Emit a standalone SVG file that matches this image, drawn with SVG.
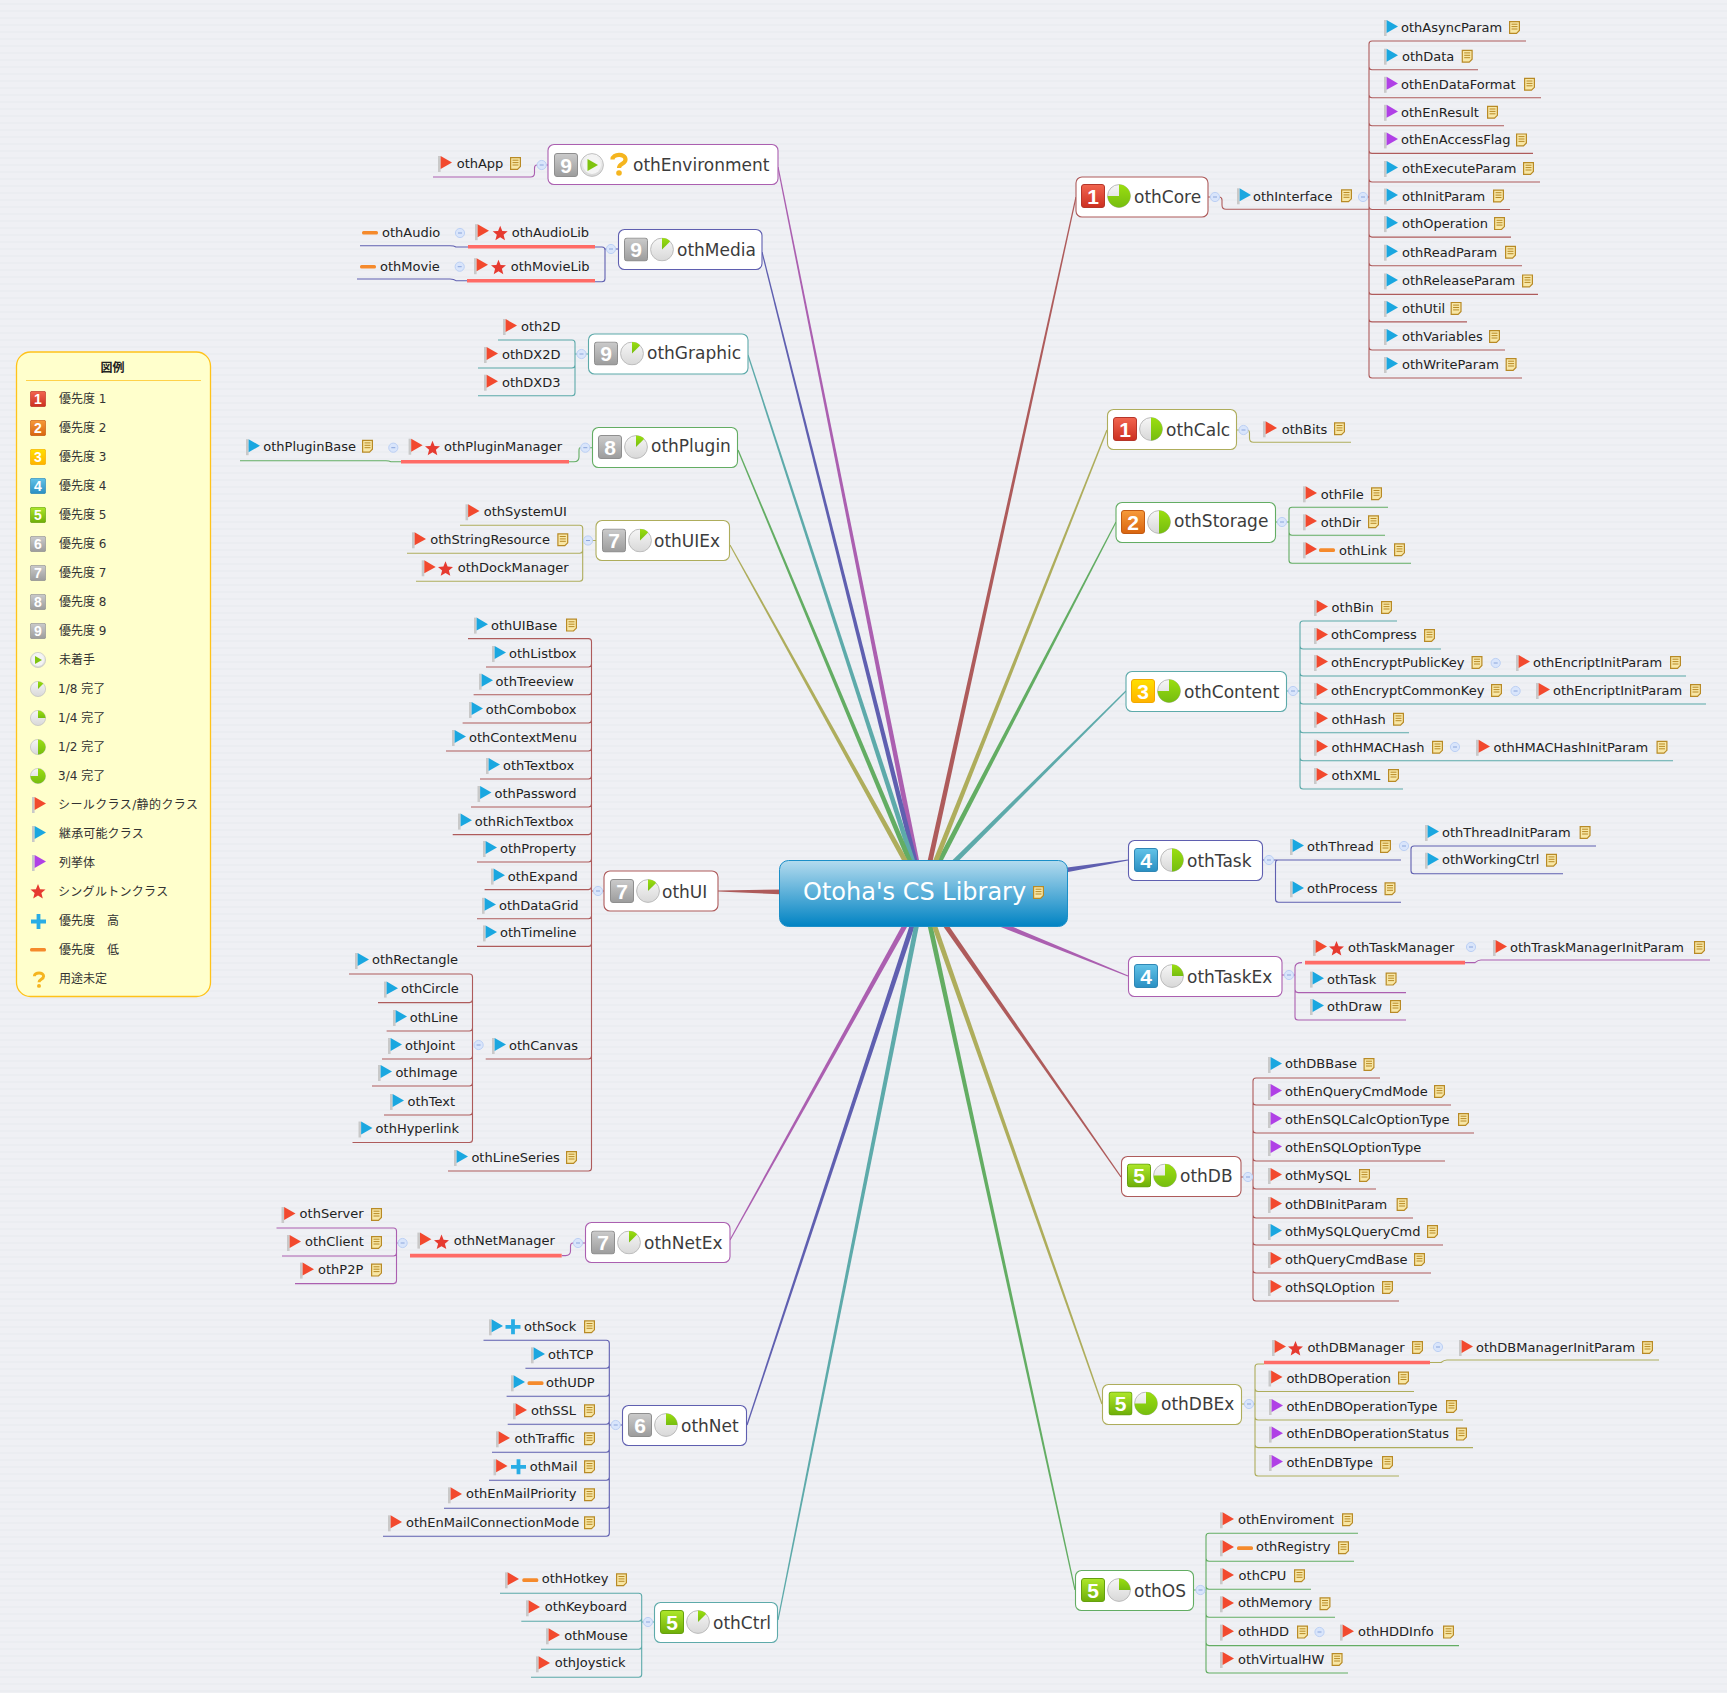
<svg xmlns="http://www.w3.org/2000/svg" width="1727" height="1693" viewBox="0 0 1727 1693">
<style>
text{font-family:"DejaVu Sans","Noto Sans CJK JP",sans-serif}
.t0{font-size:24px;fill:#fff}
.t1{font-size:17px;fill:#3c3c3c}
.t2{font-size:13px;fill:#222}
.t3{font-size:12px;fill:#333}
.pn{font-family:"Liberation Sans",Arial,sans-serif;font-size:21px;font-weight:bold;fill:#fff;text-anchor:middle}
.nd{fill:#fff;stroke-width:1.1}
.l{fill:none;stroke-width:1.1}
.sg{fill:none;stroke:#ff6b66;stroke-width:3.6}
.rd{stroke:#ae5b5b}.ol{stroke:#aead5c}.gr{stroke:#63ad63}.te{stroke:#5daaaa}.bl{stroke:#5f5fb0}.pu{stroke:#ab5fb0}
.frd{fill:#ae5b5b}.fol{fill:#aead5c}.fgr{fill:#63ad63}.fte{fill:#5daaaa}.fbl{fill:#5f5fb0}.fpu{fill:#ab5fb0}
</style>
<defs>
<pattern id="bg" width="8" height="7" patternUnits="userSpaceOnUse"><rect width="8" height="7" fill="#eff0f4"/><rect y="3" width="8" height="2" fill="#ebedf1"/></pattern>
<linearGradient id="gr0" x1="0" y1="0" x2="0" y2="1"><stop offset="0" stop-color="#b4dbee"/><stop offset="1" stop-color="#0083c3"/></linearGradient>
<linearGradient id="gR" x1="0" y1="0" x2="0" y2="1"><stop offset="0" stop-color="#f2654f"/><stop offset="1" stop-color="#cc2f20"/></linearGradient>
<linearGradient id="gO" x1="0" y1="0" x2="0" y2="1"><stop offset="0" stop-color="#f79a3a"/><stop offset="1" stop-color="#d8640f"/></linearGradient>
<linearGradient id="gY" x1="0" y1="0" x2="0" y2="1"><stop offset="0" stop-color="#ffe000"/><stop offset="1" stop-color="#ffb300"/></linearGradient>
<linearGradient id="gB" x1="0" y1="0" x2="0" y2="1"><stop offset="0" stop-color="#62c3e8"/><stop offset="1" stop-color="#2a8fc2"/></linearGradient>
<linearGradient id="gG" x1="0" y1="0" x2="0" y2="1"><stop offset="0" stop-color="#aee82a"/><stop offset="1" stop-color="#6eae08"/></linearGradient>
<linearGradient id="gS" x1="0" y1="0" x2="0" y2="1"><stop offset="0" stop-color="#cbcbcb"/><stop offset="1" stop-color="#9c9c9c"/></linearGradient>
<linearGradient id="gC" x1="0" y1="0" x2="0" y2="1"><stop offset="0" stop-color="#f6f6f6"/><stop offset="1" stop-color="#d8d8d8"/></linearGradient>
<linearGradient id="gW" x1="0" y1="0" x2="0" y2="1"><stop offset="0" stop-color="#9ade10"/><stop offset="1" stop-color="#76bd10"/></linearGradient>
<symbol id="p1" viewBox="0 0 24 24"><rect x=".5" y=".5" width="23" height="23" rx="2.5" fill="url(#gR)" stroke="#b5362a"/><text class="pn" x="12" y="19.5">1</text></symbol>
<symbol id="p2" viewBox="0 0 24 24"><rect x=".5" y=".5" width="23" height="23" rx="2.5" fill="url(#gO)" stroke="#c25a12"/><text class="pn" x="12" y="19.5">2</text></symbol>
<symbol id="p3" viewBox="0 0 24 24"><rect x=".5" y=".5" width="23" height="23" rx="2.5" fill="url(#gY)" stroke="#f2a900"/><text class="pn" x="12" y="19.5">3</text></symbol>
<symbol id="p4" viewBox="0 0 24 24"><rect x=".5" y=".5" width="23" height="23" rx="2.5" fill="url(#gB)" stroke="#2f87b5"/><text class="pn" x="12" y="19.5">4</text></symbol>
<symbol id="p5" viewBox="0 0 24 24"><rect x=".5" y=".5" width="23" height="23" rx="2.5" fill="url(#gG)" stroke="#66a010"/><text class="pn" x="12" y="19.5">5</text></symbol>
<symbol id="p6" viewBox="0 0 24 24"><rect x=".5" y=".5" width="23" height="23" rx="2.5" fill="url(#gS)" stroke="#8f8f8f"/><text class="pn" x="12" y="19.5">6</text></symbol>
<symbol id="p7" viewBox="0 0 24 24"><rect x=".5" y=".5" width="23" height="23" rx="2.5" fill="url(#gS)" stroke="#8f8f8f"/><text class="pn" x="12" y="19.5">7</text></symbol>
<symbol id="p8" viewBox="0 0 24 24"><rect x=".5" y=".5" width="23" height="23" rx="2.5" fill="url(#gS)" stroke="#8f8f8f"/><text class="pn" x="12" y="19.5">8</text></symbol>
<symbol id="p9" viewBox="0 0 24 24"><rect x=".5" y=".5" width="23" height="23" rx="2.5" fill="url(#gS)" stroke="#8f8f8f"/><text class="pn" x="12" y="19.5">9</text></symbol>
<symbol id="q0" viewBox="0 0 24 24"><circle cx="12" cy="12" r="11.4" fill="url(#gC)" stroke="#c0c0c0"/><circle cx="12" cy="12" r="9" fill="#f4f4f4"/><path d="M7.5 6L18 12L7.5 18Z" fill="#7fc410"/></symbol>
<symbol id="q1" viewBox="0 0 24 24"><circle cx="12" cy="12" r="11.4" fill="url(#gC)" stroke="#bcbcbc"/><path d="M12 12V.6A11.4 11.4 0 0 1 20.1 3.9Z" fill="url(#gW)"/></symbol>
<symbol id="q2" viewBox="0 0 24 24"><circle cx="12" cy="12" r="11.4" fill="url(#gC)" stroke="#bcbcbc"/><path d="M12 12V.6A11.4 11.4 0 0 1 23.4 12Z" fill="url(#gW)"/></symbol>
<symbol id="q3" viewBox="0 0 24 24"><circle cx="12" cy="12" r="11.4" fill="url(#gC)" stroke="#bcbcbc"/><path d="M12 .6A11.4 11.4 0 0 1 12 23.4Z" fill="url(#gW)"/></symbol>
<symbol id="q4" viewBox="0 0 24 24"><circle cx="12" cy="12" r="11.4" fill="url(#gC)" stroke="#bcbcbc"/><path d="M12 12V.6A11.4 11.4 0 1 1 .6 12Z" fill="url(#gW)"/></symbol>
<symbol id="qm" viewBox="0 0 22 24"><path d="M4.500 7.500C4.500 1.500 17.500 1 17.500 7.500C17.500 12 11 11.500 11 16" fill="none" stroke="#f5b51f" stroke-width="4.200"/><circle cx="11" cy="21" r="2.800" fill="#f5b51f"/></symbol>
<g id="fr"><rect width="2.6" height="16" fill="#c9c9c9"/><path d="M2.6 0L14 6.6L2.6 13Z" fill="#f2492e"/></g>
<g id="fb"><rect width="2.6" height="16" fill="#c9c9c9"/><path d="M2.6 0L14 6.6L2.6 13Z" fill="#1aa7e0"/></g>
<g id="fp"><rect width="2.6" height="16" fill="#c9c9c9"/><path d="M2.6 0L14 6.6L2.6 13Z" fill="#b040e6"/></g>
<g id="nt"><path d="M.6 .6H10.4V9.5L7.5 12.4H.6Z" fill="#f8e7a6" stroke="#b88a26" stroke-width="1.2"/><path d="M2.5 3.2H8.5M2.5 5.6H8.5M2.5 8H8.5" stroke="#b88a26"/></g>
<g id="st"><polygon points="7.5,0 9.6,5.2 15,5.6 10.9,9.1 12.3,14.5 7.5,11.6 2.7,14.5 4.1,9.1 0,5.6 5.4,5.2" fill="#e63a30"/></g>
<g id="mi"><rect width="16" height="3.6" rx="1.5" fill="#f58a2c"/></g>
<g id="pl"><path d="M5.6 0H9.4V5.6H15V9.4H9.4V15H5.6V9.4H0V5.6H5.6Z" fill="#29ade5"/></g>
<g id="co"><circle r="4.6" fill="#d9e5fb" stroke="#bcd0f4"/><path d="M-2 0H2" stroke="#8ba6dc"/></g>
</defs>
<rect width="1727" height="1693" fill="url(#bg)"/>

<g id="connectors">
<polygon class="fpu" points="919.9,864.5 914.9,865.5 777.4,167.1 778.6,166.9"/>
<polygon class="fbl" points="918.4,864.4 913.6,865.6 761.4,252.1 762.6,251.9"/>
<polygon class="fte" points="916.3,864.2 911.5,865.8 747.4,355.2 748.6,354.8"/>
<polygon class="fgr" points="913.6,864 909,866 737.4,450.2 738.6,449.8"/>
<polygon class="fol" points="909.7,863.8 905.3,866.2 729.5,545.3 730.5,544.7"/>
<polygon class="frd" points="785,889.5 785,894.5 718,891.6 718,890.4"/>
<polygon class="fpu" points="909.1,923.2 904.7,920.8 729.5,1239.7 730.5,1240.3"/>
<polygon class="fbl" points="915.8,922.8 911,921.2 746.4,1424.8 747.6,1425.2"/>
<polygon class="fte" points="919.6,922.5 914.8,921.5 777.4,1619.9 778.6,1620.1"/>
<polygon class="fgr" points="931.7,921.5 926.9,922.5 1074.4,1590.1 1075.6,1589.9"/>
<polygon class="fol" points="935.6,921.2 930.8,922.8 1101.4,1404.2 1102.6,1403.8"/>
<polygon class="frd" points="945.2,920.6 941.2,923.4 1120.5,1177.3 1121.5,1176.7"/>
<polygon class="fpu" points="1001.9,922.2 1000.1,926.8 1127.8,976.6 1128.2,975.4"/>
<polygon class="fbl" points="1060.4,873.5 1059.6,868.5 1127.9,859.4 1128.1,860.6"/>
<polygon class="fte" points="952.9,866.8 949.3,863.2 1125.6,690.6 1126.4,691.4"/>
<polygon class="fgr" points="939.8,866.2 935.4,863.8 1115.5,521.7 1116.5,522.3"/>
<polygon class="fol" points="936.4,865.9 931.8,864.1 1106.4,429.8 1107.6,430.2"/>
<polygon class="frd" points="931.6,865.5 926.8,864.5 1075.4,196.9 1076.6,197.1"/>

<path class="l rd" d="M1208 197H1215M1219 197q3 0 3 3V205q0 4.300 4 4.300H1369M1363 197H1369M1526 41H1372q-3 0-3 3V375q0 3 3 3H1522M1369 66.700q0 3 3 3H1478M1369 94.800q0 3 3 3H1541M1369 122.800q0 3 3 3H1504M1369 150.400q0 3 3 3H1533M1369 179q0 3 3 3H1540M1369 206.500q0 3 3 3H1510M1369 234.100q0 3 3 3H1511M1369 262.700q0 3 3 3H1522M1369 291.400q0 3 3 3H1538M1369 318.900q0 3 3 3H1467M1369 347q0 3 3 3H1505"/>
<path class="l ol" d="M1237 430H1243M1247 430q2.500 0 2.500 3V438q0 4.300 4 4.300H1351"/>
<path class="l gr" d="M1276 522H1282M1286 522H1289M1388 507.300H1292q-3 0-3 3V560.300q0 3 3 3H1411M1289 532.300q0 3 3 3H1385"/>
<path class="l te" d="M1287 691H1293M1297 691H1300M1397 621H1303q-3 0-3 3V786q0 3 3 3H1403M1300 646q0 3 3 3H1441M1300 673q0 3 3 3H1686M1300 701q0 3 3 3H1706M1300 729.700q0 3 3 3H1409M1300 757.800q0 3 3 3H1673"/>
<path class="l bl" d="M1262 860H1269M1273 860H1401M1596 846H1414q-3 0-3 3V870.700q0 3 3 3H1563M1278 860q-2.500 0-2.500 3V899.300q0 3 3 3H1401"/>
<path class="l pu" d="M1282 975H1289M1293 975H1295M1302 962.600q-7 0-7 5V1017q0 3 3 3H1406M1295 989.600q0 3 3 3H1406M1465 962.600H1475q3-2.600 6-2.600H1710"/>
<path class="sg" d="M1305 962.600H1465"/>
<path class="l rd" d="M1241 1177H1248M1252 1177H1253M1380 1078H1256q-3 0-3 3V1298q0 3 3 3H1399M1253 1102q0 3 3 3H1451M1253 1130q0 3 3 3H1474M1253 1158q0 3 3 3H1445M1253 1186q0 3 3 3H1376M1253 1215q0 3 3 3H1413M1253 1242q0 3 3 3H1443M1253 1270q0 3 3 3H1431"/>
<path class="l ol" d="M1242 1404H1249M1253 1404H1255M1264 1364H1258q-3 0-3 3V1473q0 3 3 3H1399M1255 1388.500q0 3 3 3H1414M1255 1417q0 3 3 3H1463M1255 1444.600q0 3 3 3H1473M1430 1362.500H1441q3-2.500 6-2.500H1659"/>
<path class="sg" d="M1264 1362.500H1430"/>
<path class="l gr" d="M1194 1590H1200M1204 1590H1206M1358 1533.300H1209q-3 0-3 3V1670q0 3 3 3H1348M1206 1558.300q0 3 3 3H1354M1206 1586.300q0 3 3 3H1311M1206 1614.300q0 3 3 3H1335M1206 1642.600q0 3 3 3H1459"/>

<path class="l pu" d="M548 165H542M537 165q-2.500 0-2.500 3V173q0 4-4 4H433"/>
<path class="l bl" d="M618 249H611M607 249H605M595 247H602q3 0 3 3V278.700q0 3-3 3H595M360 245.700H450q4 0 6 1.300H468M357 279H450q4 0 6 1.700H467"/>
<path class="sg" d="M468 246.700H595M467 280.700H595"/>
<path class="l te" d="M588 354H581.500M577 354H575M498 340H572q3 0 3 3V392.700q0 3-3 3H478M575 365q0 3-3 3H478"/>
<path class="l gr" d="M592 447.700H585.300M580.800 447.700H580q-1 0-1 3V457q0 4.700-5 4.700H569M240 460.700H386q3 0 5 1H401"/>
<path class="sg" d="M401 461.700H569"/>
<path class="l ol" d="M596 540.500H588M583.500 540.500H582.700M460 525.300H579.700q3 0 3 3V578.300q0 3-3 3H416M582.700 550.300q0 3-3 3H407"/>
<path class="l rd" d="M604 891H598M593.500 891H591.500M468 638.600H588.500q3 0 3 3V1168q0 3-3 3H448M591.500 664q0 3-3 3H486M591.500 691.700q0 3-3 3H473.600M591.500 720q0 3-3 3H462.600M591.500 748q0 3-3 3H446M591.500 776q0 3-3 3H480M591.500 804q0 3-3 3H471M591.500 831.600q0 3-3 3H452.700M591.500 859q0 3-3 3H477M591.500 886.600q0 3-3 3H484.600M591.500 915.800q0 3-3 3H477M591.500 943.400q0 3-3 3H477M591.500 1056q0 3-3 3H485.700M349 974H469.500q3 0 3 3V1139.500q0 3-3 3H352.500M472.500 999.600q0 3-3 3H378M472.500 1028q0 3-3 3H386.600M472.500 1056q0 3-3 3H382M472.500 1083q0 3-3 3H372M472.500 1112q0 3-3 3H384"/>
<path class="l pu" d="M585 1243H578M573.500 1243H573q-2.500 0-2.500 3V1251q0 4.600-5 4.600H561.700M276.500 1228H393.500q3 0 3 3V1280.600q0 3-3 3H295M396.500 1253q0 3-3 3H282"/>
<path class="sg" d="M410 1255.600H561.700"/>
<path class="l pu" d="M398 1243H396.500"/>
<path class="l bl" d="M622.300 1425H615.700M611 1425H609.300M483.500 1340.300H606.300q3 0 3 3V1533.300q0 3-3 3H383M609.300 1365.300q0 3-3 3H525.400M609.300 1393.300q0 3-3 3H506.600M609.300 1421.300q0 3-3 3H507.700M609.300 1449.300q0 3-3 3H492M609.300 1477.300q0 3-3 3H489M609.300 1505.300q0 3-3 3H444"/>
<path class="l te" d="M654.300 1622H647.700M643.500 1622H641.700M500 1593.300H638.700q3 0 3 3V1674.300q0 3-3 3H531M641.700 1618.300q0 3-3 3H521.300M641.700 1646.300q0 3-3 3H541"/>
</g>

<g id="root">
<rect x="779.500" y="860.500" width="288" height="66" rx="9" fill="url(#gr0)" stroke="#1b8fc8"/>
<text class="t0" x="803" y="900">Otoha's CS Library</text>
<use href="#nt" x="1033" y="886"/>
</g>

<g id="othEnvironment"><rect class="nd pu" x="548" y="144.500" width="230" height="40" rx="6"/><use href="#p9" x="554" y="153" width="24" height="24"/><use href="#q0" x="580" y="153" width="24" height="24"/><use href="#qm" x="608" y="152" width="22" height="24"/><text class="t1" x="633" y="171">othEnvironment</text></g>
<g id="othMedia"><rect class="nd bl" x="618.500" y="229.500" width="143.500" height="40" rx="6"/><use href="#p9" x="624" y="237.500" width="24" height="24"/><use href="#q1" x="650" y="237.500" width="24" height="24"/><text class="t1" x="677" y="256">othMedia</text></g>
<g id="othGraphic"><rect class="nd te" x="588.500" y="334" width="159.500" height="40" rx="6"/><use href="#p9" x="594" y="341.500" width="24" height="24"/><use href="#q1" x="620" y="341.500" width="24" height="24"/><text class="t1" x="647" y="359">othGraphic</text></g>
<g id="othPlugin"><rect class="nd gr" x="592.500" y="427.500" width="145" height="40" rx="6"/><use href="#p8" x="598" y="435" width="24" height="24"/><use href="#q1" x="624" y="435" width="24" height="24"/><text class="t1" x="651" y="452">othPlugin</text></g>
<g id="othUIEx"><rect class="nd ol" x="596" y="520.500" width="133.500" height="40" rx="6"/><use href="#p7" x="602" y="528.500" width="24" height="24"/><use href="#q1" x="628" y="528.500" width="24" height="24"/><text class="t1" x="654" y="547">othUIEx</text></g>
<g id="othUI"><rect class="nd rd" x="604" y="871" width="114" height="40" rx="6"/><use href="#p7" x="610" y="879" width="24" height="24"/><use href="#q1" x="636" y="879" width="24" height="24"/><text class="t1" x="662" y="897.500">othUI</text></g>
<g id="othNetEx"><rect class="nd pu" x="585.500" y="1222.500" width="144.500" height="40" rx="6"/><use href="#p7" x="591" y="1230.500" width="24" height="24"/><use href="#q1" x="617" y="1230.500" width="24" height="24"/><text class="t1" x="644" y="1249">othNetEx</text></g>
<g id="othNet"><rect class="nd bl" x="622.500" y="1405.500" width="124" height="40" rx="6"/><use href="#p6" x="628" y="1413" width="24" height="24"/><use href="#q2" x="654" y="1413" width="24" height="24"/><text class="t1" x="681" y="1432">othNet</text></g>
<g id="othCtrl"><rect class="nd te" x="654.500" y="1602.500" width="123" height="40" rx="6"/><use href="#p5" x="660" y="1610" width="24" height="24"/><use href="#q1" x="686" y="1610" width="24" height="24"/><text class="t1" x="713" y="1628.500">othCtrl</text></g>
<g id="othCore"><rect class="nd rd" x="1076" y="177" width="132" height="40" rx="6"/><use href="#p1" x="1081" y="184" width="24" height="24"/><use href="#q4" x="1107" y="184" width="24" height="24"/><text class="t1" x="1134" y="203">othCore</text></g>
<g id="othCalc"><rect class="nd ol" x="1107.500" y="409.500" width="129" height="40" rx="6"/><use href="#p1" x="1113" y="417" width="24" height="24"/><use href="#q3" x="1139" y="417" width="24" height="24"/><text class="t1" x="1166" y="436">othCalc</text></g>
<g id="othStorage"><rect class="nd gr" x="1116" y="502.500" width="159.500" height="40" rx="6"/><use href="#p2" x="1121" y="510" width="24" height="24"/><use href="#q3" x="1147" y="510" width="24" height="24"/><text class="t1" x="1174" y="527.300">othStorage</text></g>
<g id="othContent"><rect class="nd te" x="1126" y="671.500" width="160.500" height="40" rx="6"/><use href="#p3" x="1131" y="679" width="24" height="24"/><use href="#q4" x="1157" y="679" width="24" height="24"/><text class="t1" x="1184" y="698">othContent</text></g>
<g id="othTask"><rect class="nd bl" x="1128.500" y="840.500" width="134" height="40" rx="6"/><use href="#p4" x="1134" y="848" width="24" height="24"/><use href="#q3" x="1160" y="848" width="24" height="24"/><text class="t1" x="1187" y="867">othTask</text></g>
<g id="othTaskEx"><rect class="nd pu" x="1128.500" y="956.500" width="153.500" height="40" rx="6"/><use href="#p4" x="1134" y="964" width="24" height="24"/><use href="#q2" x="1160" y="964" width="24" height="24"/><text class="t1" x="1187" y="983">othTaskEx</text></g>
<g id="othDB"><rect class="nd rd" x="1121.500" y="1156.500" width="119.500" height="40" rx="6"/><use href="#p5" x="1127" y="1163.500" width="24" height="24"/><use href="#q4" x="1153" y="1163.500" width="24" height="24"/><text class="t1" x="1180" y="1182">othDB</text></g>
<g id="othDBEx"><rect class="nd ol" x="1102.500" y="1384.500" width="139" height="40" rx="6"/><use href="#p5" x="1108.500" y="1391.500" width="24" height="24"/><use href="#q4" x="1134" y="1391.500" width="24" height="24"/><text class="t1" x="1161" y="1410">othDBEx</text></g>
<g id="othOS"><rect class="nd gr" x="1075.500" y="1570.500" width="118" height="40" rx="6"/><use href="#p5" x="1081" y="1578" width="24" height="24"/><use href="#q2" x="1107" y="1578" width="24" height="24"/><text class="t1" x="1134" y="1596.500">othOS</text></g>

<g id="collapsers">
<use href="#co" x="1215" y="197"/><use href="#co" x="1363" y="197"/><use href="#co" x="1243.500" y="430"/><use href="#co" x="1282" y="522"/><use href="#co" x="1293" y="691"/><use href="#co" x="1495.700" y="663"/><use href="#co" x="1515.600" y="691"/><use href="#co" x="1455" y="747"/><use href="#co" x="1269" y="860"/><use href="#co" x="1404" y="846"/><use href="#co" x="1289" y="975"/><use href="#co" x="1471" y="947"/><use href="#co" x="1248" y="1177"/><use href="#co" x="1249" y="1404"/><use href="#co" x="1438" y="1347"/><use href="#co" x="1200.500" y="1590"/><use href="#co" x="1319.500" y="1632"/>
<use href="#co" x="541.700" y="165"/><use href="#co" x="611" y="249"/><use href="#co" x="460" y="233"/><use href="#co" x="459.700" y="266.700"/><use href="#co" x="581.500" y="354"/><use href="#co" x="585.300" y="447.700"/><use href="#co" x="393.300" y="447.700"/><use href="#co" x="588" y="540.500"/><use href="#co" x="598" y="891"/><use href="#co" x="478.600" y="1045"/><use href="#co" x="578" y="1243"/><use href="#co" x="402.600" y="1243"/><use href="#co" x="615.700" y="1425"/><use href="#co" x="648" y="1622"/>
</g>

<g id="leaves">
<g id="othInterface" transform="translate(0,209.300)"><use href="#fb" x="1237" y="-21"/><text class="t2" x="1253" y="-8">othInterface</text><use href="#nt" x="1341" y="-20"/></g>
<g id="othAsyncParam" transform="translate(0,41)"><use href="#fb" x="1384" y="-21"/><text class="t2" x="1401" y="-9">othAsyncParam</text><use href="#nt" x="1509" y="-20"/></g>
<g id="othData" transform="translate(0,69.700)"><use href="#fb" x="1384" y="-21"/><text class="t2" x="1402" y="-9">othData</text><use href="#nt" x="1461.700" y="-20"/></g>
<g id="othEnDataFormat" transform="translate(0,97.800)"><use href="#fp" x="1384" y="-21"/><text class="t2" x="1401" y="-9">othEnDataFormat</text><use href="#nt" x="1524" y="-20"/></g>
<g id="othEnResult" transform="translate(0,125.800)"><use href="#fp" x="1384" y="-21"/><text class="t2" x="1401" y="-9">othEnResult</text><use href="#nt" x="1487" y="-20"/></g>
<g id="othEnAccessFlag" transform="translate(0,153.400)"><use href="#fp" x="1384" y="-21"/><text class="t2" x="1401" y="-9">othEnAccessFlag</text><use href="#nt" x="1516" y="-20"/></g>
<g id="othExecuteParam" transform="translate(0,182)"><use href="#fb" x="1384" y="-21"/><text class="t2" x="1402" y="-9">othExecuteParam</text><use href="#nt" x="1523" y="-20"/></g>
<g id="othInitParam" transform="translate(0,209.500)"><use href="#fb" x="1384" y="-21"/><text class="t2" x="1402" y="-9">othInitParam</text><use href="#nt" x="1493" y="-20"/></g>
<g id="othOperation" transform="translate(0,237.100)"><use href="#fb" x="1384" y="-21"/><text class="t2" x="1402" y="-9">othOperation</text><use href="#nt" x="1494" y="-20"/></g>
<g id="othReadParam" transform="translate(0,265.700)"><use href="#fb" x="1384" y="-21"/><text class="t2" x="1402" y="-9">othReadParam</text><use href="#nt" x="1505" y="-20"/></g>
<g id="othReleaseParam" transform="translate(0,294.400)"><use href="#fb" x="1384" y="-21"/><text class="t2" x="1402" y="-9">othReleaseParam</text><use href="#nt" x="1522" y="-20"/></g>
<g id="othUtil" transform="translate(0,321.900)"><use href="#fb" x="1384" y="-21"/><text class="t2" x="1402" y="-9">othUtil</text><use href="#nt" x="1450.600" y="-20"/></g>
<g id="othVariables" transform="translate(0,350)"><use href="#fb" x="1384" y="-21"/><text class="t2" x="1402" y="-9">othVariables</text><use href="#nt" x="1489" y="-20"/></g>
<g id="othWriteParam" transform="translate(0,378)"><use href="#fb" x="1384" y="-21"/><text class="t2" x="1402" y="-9">othWriteParam</text><use href="#nt" x="1505.600" y="-20"/></g>

<g id="othBits" transform="translate(0,442.300)"><use href="#fr" x="1263" y="-21"/><text class="t2" x="1281.700" y="-8">othBits</text><use href="#nt" x="1334" y="-20"/></g>
<g id="othFile" transform="translate(0,507.300)"><use href="#fr" x="1303" y="-21"/><text class="t2" x="1320.700" y="-8">othFile</text><use href="#nt" x="1371" y="-20"/></g>
<g id="othDir" transform="translate(0,535.300)"><use href="#fr" x="1303" y="-21"/><text class="t2" x="1320.700" y="-8">othDir</text><use href="#nt" x="1368" y="-20"/></g>
<g id="othLink" transform="translate(0,563.300)"><use href="#fr" x="1303" y="-21"/><use href="#mi" x="1319" y="-15"/><text class="t2" x="1339" y="-8">othLink</text><use href="#nt" x="1394" y="-20"/></g>

<g id="othBin" transform="translate(0,621)"><use href="#fr" x="1314" y="-21"/><text class="t2" x="1331.600" y="-9">othBin</text><use href="#nt" x="1381" y="-20"/></g>
<g id="othCompress" transform="translate(0,649)"><use href="#fr" x="1314" y="-21"/><text class="t2" x="1331" y="-10">othCompress</text><use href="#nt" x="1424" y="-20"/></g>
<g id="othEncryptPublicKey" transform="translate(0,676)"><use href="#fr" x="1314" y="-21"/><text class="t2" x="1331" y="-9">othEncryptPublicKey</text><use href="#nt" x="1471.500" y="-20"/></g>
<g id="othEncriptInitParam1" transform="translate(0,676)"><use href="#fr" x="1516" y="-21"/><text class="t2" x="1533" y="-9">othEncriptInitParam</text><use href="#nt" x="1670" y="-20"/></g>
<g id="othEncryptCommonKey" transform="translate(0,704)"><use href="#fr" x="1314" y="-21"/><text class="t2" x="1331" y="-9">othEncryptCommonKey</text><use href="#nt" x="1491" y="-20"/></g>
<g id="othEncriptInitParam2" transform="translate(0,704)"><use href="#fr" x="1536" y="-21"/><text class="t2" x="1553" y="-9">othEncriptInitParam</text><use href="#nt" x="1690" y="-20"/></g>
<g id="othHash" transform="translate(0,732.700)"><use href="#fr" x="1314" y="-21"/><text class="t2" x="1331.600" y="-9">othHash</text><use href="#nt" x="1393" y="-20"/></g>
<g id="othHMACHash" transform="translate(0,760.800)"><use href="#fr" x="1314" y="-21"/><text class="t2" x="1331.600" y="-9">othHMACHash</text><use href="#nt" x="1432" y="-20"/></g>
<g id="othHMACHashInitParam" transform="translate(0,760.800)"><use href="#fr" x="1476" y="-21"/><text class="t2" x="1493.500" y="-9">othHMACHashInitParam</text><use href="#nt" x="1656.500" y="-20"/></g>
<g id="othXML" transform="translate(0,789)"><use href="#fr" x="1314" y="-21"/><text class="t2" x="1331.600" y="-9">othXML</text><use href="#nt" x="1388" y="-20"/></g>

<g id="othThread" transform="translate(0,860)"><use href="#fb" x="1290" y="-21"/><text class="t2" x="1307" y="-9">othThread</text><use href="#nt" x="1380" y="-20"/></g>
<g id="othThreadInitParam" transform="translate(0,846)"><use href="#fb" x="1425" y="-21"/><text class="t2" x="1442" y="-9.500">othThreadInitParam</text><use href="#nt" x="1579.600" y="-20"/></g>
<g id="othWorkingCtrl" transform="translate(0,873.700)"><use href="#fb" x="1425" y="-21"/><text class="t2" x="1442" y="-9.500">othWorkingCtrl</text><use href="#nt" x="1546" y="-20"/></g>
<g id="othProcess" transform="translate(0,902.300)"><use href="#fb" x="1290" y="-21"/><text class="t2" x="1307" y="-9">othProcess</text><use href="#nt" x="1384.500" y="-20"/></g>

<g id="othTaskManager" transform="translate(0,961)"><use href="#fr" x="1313" y="-21"/><use href="#st" x="1329" y="-20"/><text class="t2" x="1348" y="-9.500">othTaskManager</text></g>
<g id="othTraskManagerInitParam" transform="translate(0,961)"><use href="#fr" x="1493" y="-21"/><text class="t2" x="1510" y="-9.500">othTraskManagerInitParam</text><use href="#nt" x="1694" y="-20"/></g>
<g id="othTask2" transform="translate(0,992.600)"><use href="#fb" x="1310" y="-21"/><text class="t2" x="1327" y="-9">othTask</text><use href="#nt" x="1385.600" y="-20"/></g>
<g id="othDraw" transform="translate(0,1020)"><use href="#fb" x="1310" y="-21"/><text class="t2" x="1327" y="-9">othDraw</text><use href="#nt" x="1390" y="-20"/></g>

<g id="othDBBase" transform="translate(0,1078)"><use href="#fb" x="1268" y="-21"/><text class="t2" x="1285" y="-10">othDBBase</text><use href="#nt" x="1363.500" y="-20"/></g>
<g id="othEnQueryCmdMode" transform="translate(0,1105)"><use href="#fp" x="1268" y="-21"/><text class="t2" x="1285" y="-9.500">othEnQueryCmdMode</text><use href="#nt" x="1434" y="-20"/></g>
<g id="othEnSQLCalcOptionType" transform="translate(0,1133)"><use href="#fp" x="1268" y="-21"/><text class="t2" x="1285" y="-9.500">othEnSQLCalcOptionType</text><use href="#nt" x="1458" y="-20"/></g>
<g id="othEnSQLOptionType" transform="translate(0,1161)"><use href="#fp" x="1268" y="-21"/><text class="t2" x="1285" y="-9.500">othEnSQLOptionType</text></g>
<g id="othMySQL" transform="translate(0,1189)"><use href="#fr" x="1268" y="-21"/><text class="t2" x="1285" y="-9.500">othMySQL</text><use href="#nt" x="1359" y="-20"/></g>
<g id="othDBInitParam" transform="translate(0,1218)"><use href="#fr" x="1268" y="-21"/><text class="t2" x="1285" y="-9.500">othDBInitParam</text><use href="#nt" x="1396.600" y="-20"/></g>
<g id="othMySQLQueryCmd" transform="translate(0,1245)"><use href="#fb" x="1268" y="-21"/><text class="t2" x="1285" y="-9">othMySQLQueryCmd</text><use href="#nt" x="1427" y="-20"/></g>
<g id="othQueryCmdBase" transform="translate(0,1273)"><use href="#fr" x="1268" y="-21"/><text class="t2" x="1285" y="-9.500">othQueryCmdBase</text><use href="#nt" x="1414" y="-20"/></g>
<g id="othSQLOption" transform="translate(0,1301)"><use href="#fr" x="1268" y="-21"/><text class="t2" x="1285" y="-9.500">othSQLOption</text><use href="#nt" x="1382" y="-20"/></g>

<g id="othDBManager" transform="translate(0,1361)"><use href="#fr" x="1272" y="-21"/><use href="#st" x="1288" y="-20"/><text class="t2" x="1307.400" y="-9.500">othDBManager</text><use href="#nt" x="1412" y="-20"/></g>
<g id="othDBManagerInitParam" transform="translate(0,1361)"><use href="#fr" x="1459" y="-21"/><text class="t2" x="1476" y="-9.500">othDBManagerInitParam</text><use href="#nt" x="1642" y="-20"/></g>
<g id="othDBOperation" transform="translate(0,1391.500)"><use href="#fr" x="1268.500" y="-21"/><text class="t2" x="1286.400" y="-9">othDBOperation</text><use href="#nt" x="1398" y="-20"/></g>
<g id="othEnDBOperationType" transform="translate(0,1420)"><use href="#fp" x="1269" y="-21"/><text class="t2" x="1286.400" y="-9.500">othEnDBOperationType</text><use href="#nt" x="1446" y="-20"/></g>
<g id="othEnDBOperationStatus" transform="translate(0,1447.600)"><use href="#fp" x="1269" y="-21"/><text class="t2" x="1286.400" y="-9.500">othEnDBOperationStatus</text><use href="#nt" x="1456" y="-20"/></g>
<g id="othEnDBType" transform="translate(0,1476)"><use href="#fp" x="1269" y="-21"/><text class="t2" x="1286.400" y="-9.500">othEnDBType</text><use href="#nt" x="1382" y="-20"/></g>

<g id="othEnviroment" transform="translate(0,1533.300)"><use href="#fr" x="1220" y="-21"/><text class="t2" x="1238" y="-9">othEnviroment</text><use href="#nt" x="1342" y="-20"/></g>
<g id="othRegistry" transform="translate(0,1561.300)"><use href="#fr" x="1220" y="-21"/><use href="#mi" x="1237" y="-15"/><text class="t2" x="1256" y="-10">othRegistry</text><use href="#nt" x="1338" y="-20"/></g>
<g id="othCPU" transform="translate(0,1589.300)"><use href="#fr" x="1220" y="-21"/><text class="t2" x="1238.600" y="-9">othCPU</text><use href="#nt" x="1294" y="-20"/></g>
<g id="othMemory" transform="translate(0,1617.300)"><use href="#fr" x="1220" y="-21"/><text class="t2" x="1238" y="-10">othMemory</text><use href="#nt" x="1319.500" y="-20"/></g>
<g id="othHDD" transform="translate(0,1645.600)"><use href="#fr" x="1220" y="-21"/><text class="t2" x="1238" y="-10">othHDD</text><use href="#nt" x="1297" y="-20"/></g>
<g id="othHDDInfo" transform="translate(0,1645.600)"><use href="#fr" x="1340" y="-21"/><text class="t2" x="1358" y="-10">othHDDInfo</text><use href="#nt" x="1443" y="-20"/></g>
<g id="othVirtualHW" transform="translate(0,1673)"><use href="#fr" x="1220" y="-21"/><text class="t2" x="1238" y="-9">othVirtualHW</text><use href="#nt" x="1331.600" y="-20"/></g>

<g id="othApp" transform="translate(0,177)"><use href="#fr" x="438" y="-21"/><text class="t2" x="456.700" y="-9">othApp</text><use href="#nt" x="510" y="-20"/></g>
<g id="othAudioLib" transform="translate(0,246.700)"><use href="#fr" x="475" y="-22.500"/><use href="#st" x="492.700" y="-21"/><text class="t2" x="511.700" y="-10">othAudioLib</text></g>
<g id="othMovieLib" transform="translate(0,280.700)"><use href="#fr" x="474" y="-22.500"/><use href="#st" x="491" y="-21"/><text class="t2" x="510.700" y="-10">othMovieLib</text></g>
<g id="othAudio" transform="translate(0,246)"><use href="#mi" x="362" y="-15"/><text class="t2" x="382" y="-9">othAudio</text></g>
<g id="othMovie" transform="translate(0,279)"><use href="#mi" x="360" y="-14"/><text class="t2" x="380" y="-8">othMovie</text></g>
<g id="oth2D" transform="translate(0,340)"><use href="#fr" x="503" y="-21"/><text class="t2" x="521" y="-9">oth2D</text></g>
<g id="othDX2D" transform="translate(0,368)"><use href="#fr" x="484" y="-21"/><text class="t2" x="502" y="-9">othDX2D</text></g>
<g id="othDXD3" transform="translate(0,395.700)"><use href="#fr" x="484" y="-21"/><text class="t2" x="502" y="-9">othDXD3</text></g>
<g id="othPluginManager" transform="translate(0,461.700)"><use href="#fr" x="408.600" y="-23"/><use href="#st" x="425" y="-21"/><text class="t2" x="444" y="-10.500">othPluginManager</text></g>
<g id="othPluginBase" transform="translate(0,460.700)"><use href="#fb" x="246" y="-21.500"/><text class="t2" x="263.300" y="-10">othPluginBase</text><use href="#nt" x="362" y="-21"/></g>
<g id="othSystemUI" transform="translate(0,525.300)"><use href="#fr" x="465.500" y="-21"/><text class="t2" x="483.700" y="-9">othSystemUI</text></g>
<g id="othStringResource" transform="translate(0,553.300)"><use href="#fr" x="412" y="-21"/><text class="t2" x="430.300" y="-9">othStringResource</text><use href="#nt" x="557.300" y="-20"/></g>
<g id="othDockManager" transform="translate(0,581.300)"><use href="#fr" x="421.700" y="-21"/><use href="#st" x="438" y="-20"/><text class="t2" x="457.700" y="-9">othDockManager</text></g>

<g id="othUIBase" transform="translate(0,638.600)"><use href="#fb" x="474" y="-21"/><text class="t2" x="491" y="-9">othUIBase</text><use href="#nt" x="566" y="-20"/></g>
<g id="othListbox" transform="translate(0,667)"><use href="#fb" x="492" y="-21"/><text class="t2" x="509" y="-9">othListbox</text></g>
<g id="othTreeview" transform="translate(0,694.700)"><use href="#fb" x="479" y="-21"/><text class="t2" x="495.600" y="-9">othTreeview</text></g>
<g id="othCombobox" transform="translate(0,723)"><use href="#fb" x="469" y="-21"/><text class="t2" x="485.700" y="-9">othCombobox</text></g>
<g id="othContextMenu" transform="translate(0,751)"><use href="#fb" x="452" y="-21"/><text class="t2" x="469" y="-9">othContextMenu</text></g>
<g id="othTextbox" transform="translate(0,779)"><use href="#fb" x="486" y="-21"/><text class="t2" x="503" y="-9">othTextbox</text></g>
<g id="othPassword" transform="translate(0,807)"><use href="#fb" x="477.500" y="-21"/><text class="t2" x="494.500" y="-9">othPassword</text></g>
<g id="othRichTextbox" transform="translate(0,834.600)"><use href="#fb" x="458" y="-21"/><text class="t2" x="474.700" y="-9">othRichTextbox</text></g>
<g id="othProperty" transform="translate(0,862)"><use href="#fb" x="483" y="-21"/><text class="t2" x="500" y="-9">othProperty</text></g>
<g id="othExpand" transform="translate(0,889.600)"><use href="#fb" x="491" y="-21"/><text class="t2" x="507.800" y="-9">othExpand</text></g>
<g id="othDataGrid" transform="translate(0,918.800)"><use href="#fb" x="482" y="-21"/><text class="t2" x="499" y="-9">othDataGrid</text></g>
<g id="othTimeline" transform="translate(0,946.400)"><use href="#fb" x="483" y="-21"/><text class="t2" x="500" y="-9">othTimeline</text></g>
<g id="othCanvas" transform="translate(0,1059)"><use href="#fb" x="492" y="-21"/><text class="t2" x="509" y="-9.500">othCanvas</text></g>
<g id="othLineSeries" transform="translate(0,1171)"><use href="#fb" x="454" y="-21"/><text class="t2" x="471.400" y="-9">othLineSeries</text><use href="#nt" x="566" y="-20"/></g>
<g id="othRectangle" transform="translate(0,974)"><use href="#fb" x="355" y="-21"/><text class="t2" x="372" y="-10">othRectangle</text></g>
<g id="othCircle" transform="translate(0,1002.600)"><use href="#fb" x="384" y="-21"/><text class="t2" x="401" y="-9.500">othCircle</text></g>
<g id="othLine" transform="translate(0,1031)"><use href="#fb" x="393" y="-21"/><text class="t2" x="409.700" y="-9.500">othLine</text></g>
<g id="othJoint" transform="translate(0,1059)"><use href="#fb" x="388" y="-21"/><text class="t2" x="405" y="-9.500">othJoint</text></g>
<g id="othImage" transform="translate(0,1086)"><use href="#fb" x="378" y="-21"/><text class="t2" x="395.400" y="-9">othImage</text></g>
<g id="othText" transform="translate(0,1115)"><use href="#fb" x="390" y="-21"/><text class="t2" x="407.500" y="-9">othText</text></g>
<g id="othHyperlink" transform="translate(0,1142.500)"><use href="#fb" x="358.500" y="-21"/><text class="t2" x="375.600" y="-10">othHyperlink</text></g>

<g id="othNetManager" transform="translate(0,1255.600)"><use href="#fr" x="417.400" y="-23"/><use href="#st" x="434" y="-21"/><text class="t2" x="453.800" y="-10.500">othNetManager</text></g>
<g id="othServer" transform="translate(0,1228)"><use href="#fr" x="281.500" y="-21"/><text class="t2" x="299.600" y="-10">othServer</text><use href="#nt" x="371" y="-20"/></g>
<g id="othClient" transform="translate(0,1256)"><use href="#fr" x="287" y="-21"/><text class="t2" x="305" y="-10">othClient</text><use href="#nt" x="371" y="-20"/></g>
<g id="othP2P" transform="translate(0,1283.600)"><use href="#fr" x="300" y="-21"/><text class="t2" x="318" y="-10">othP2P</text><use href="#nt" x="371" y="-20"/></g>

<g id="othSock" transform="translate(0,1340.300)"><use href="#fb" x="489" y="-21"/><use href="#pl" x="505.500" y="-21"/><text class="t2" x="524" y="-9">othSock</text><use href="#nt" x="584" y="-20"/></g>
<g id="othTCP" transform="translate(0,1368.300)"><use href="#fb" x="531" y="-21"/><text class="t2" x="548" y="-9">othTCP</text></g>
<g id="othUDP" transform="translate(0,1396.300)"><use href="#fb" x="511" y="-21"/><use href="#mi" x="527.500" y="-15"/><text class="t2" x="546" y="-9">othUDP</text></g>
<g id="othSSL" transform="translate(0,1424.300)"><use href="#fr" x="513" y="-21"/><text class="t2" x="531" y="-9">othSSL</text><use href="#nt" x="584" y="-20"/></g>
<g id="othTraffic" transform="translate(0,1452.300)"><use href="#fr" x="496" y="-21"/><text class="t2" x="514.500" y="-9">othTraffic</text><use href="#nt" x="584" y="-20"/></g>
<g id="othMail" transform="translate(0,1480.300)"><use href="#fr" x="493.500" y="-21"/><use href="#pl" x="511" y="-21"/><text class="t2" x="529.800" y="-9">othMail</text><use href="#nt" x="584" y="-20"/></g>
<g id="othEnMailPriority" transform="translate(0,1508.300)"><use href="#fr" x="448" y="-21"/><text class="t2" x="466" y="-10">othEnMailPriority</text><use href="#nt" x="584" y="-20"/></g>
<g id="othEnMailConnectionMode" transform="translate(0,1536.300)"><use href="#fr" x="388" y="-21"/><text class="t2" x="406" y="-9">othEnMailConnectionMode</text><use href="#nt" x="584" y="-20"/></g>

<g id="othHotkey" transform="translate(0,1593.300)"><use href="#fr" x="505" y="-21"/><use href="#mi" x="522.300" y="-15"/><text class="t2" x="541.700" y="-10">othHotkey</text><use href="#nt" x="616" y="-20"/></g>
<g id="othKeyboard" transform="translate(0,1621.300)"><use href="#fr" x="526" y="-21"/><text class="t2" x="544.700" y="-10">othKeyboard</text></g>
<g id="othMouse" transform="translate(0,1649.300)"><use href="#fr" x="546" y="-21"/><text class="t2" x="564.300" y="-9">othMouse</text></g>
<g id="othJoystick" transform="translate(0,1677.300)"><use href="#fr" x="536" y="-21"/><text class="t2" x="554.700" y="-10">othJoystick</text></g>
</g>

<g id="legend">
<rect x="16.500" y="352" width="194" height="644.500" rx="14" fill="#ffffcc" stroke="#ffc21a" stroke-width="1.300"/>
<text x="112.500" y="372" text-anchor="middle" font-size="12" font-weight="bold" fill="#222">図例</text>
<path d="M26 380.500H201" stroke="#ffd24a" stroke-width="1"/>
<use href="#p1" x="30" y="391" width="16" height="16"/><text class="t3" x="59" y="403">優先度 1</text>
<use href="#p2" x="30" y="420" width="16" height="16"/><text class="t3" x="59" y="432">優先度 2</text>
<use href="#p3" x="30" y="449" width="16" height="16"/><text class="t3" x="59" y="461">優先度 3</text>
<use href="#p4" x="30" y="478" width="16" height="16"/><text class="t3" x="59" y="490">優先度 4</text>
<use href="#p5" x="30" y="507" width="16" height="16"/><text class="t3" x="59" y="519">優先度 5</text>
<use href="#p6" x="30" y="536" width="16" height="16"/><text class="t3" x="59" y="548">優先度 6</text>
<use href="#p7" x="30" y="565" width="16" height="16"/><text class="t3" x="59" y="577">優先度 7</text>
<use href="#p8" x="30" y="594" width="16" height="16"/><text class="t3" x="59" y="606">優先度 8</text>
<use href="#p9" x="30" y="623" width="16" height="16"/><text class="t3" x="59" y="635">優先度 9</text>
<use href="#q0" x="30" y="652" width="16" height="16"/><text class="t3" x="59" y="664">未着手</text>
<use href="#q1" x="30" y="681" width="16" height="16"/><text class="t3" x="58" y="692.500">1/8 完了</text>
<use href="#q2" x="30" y="710" width="16" height="16"/><text class="t3" x="58" y="721.500">1/4 完了</text>
<use href="#q3" x="30" y="739" width="16" height="16"/><text class="t3" x="58" y="750.500">1/2 完了</text>
<use href="#q4" x="30" y="768" width="16" height="16"/><text class="t3" x="58" y="779.500">3/4 完了</text>
<use href="#fr" x="32" y="797"/><text class="t3" x="58" y="809" letter-spacing=".4">シールクラス/静的クラス</text>
<use href="#fb" x="32" y="826"/><text class="t3" x="59" y="838" letter-spacing=".15">継承可能クラス</text>
<use href="#fp" x="32" y="855"/><text class="t3" x="59" y="867">列挙体</text>
<use href="#st" x="30.500" y="884"/><text class="t3" x="58" y="896" letter-spacing=".3">シングルトンクラス</text>
<use href="#pl" x="31" y="914"/><text class="t3" x="59" y="925">優先度　高</text>
<use href="#mi" x="30" y="948"/><text class="t3" x="59" y="954">優先度　低</text>
<use href="#qm" x="31" y="971" width="16" height="17"/><text class="t3" x="59" y="983">用途未定</text>
</g>
</svg>
